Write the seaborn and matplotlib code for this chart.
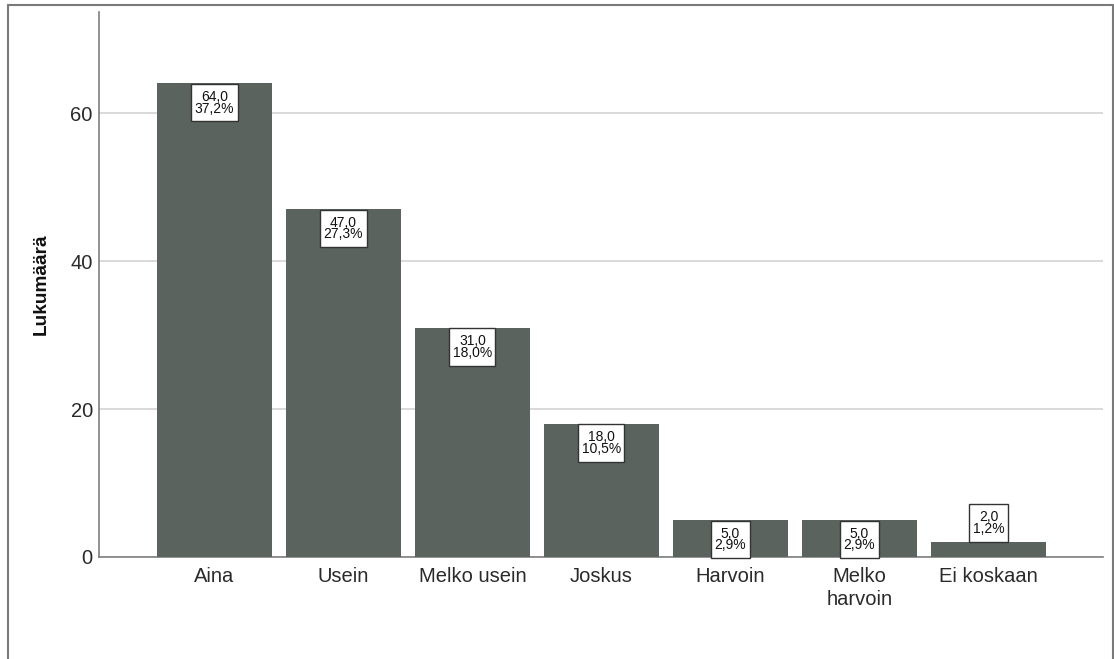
import matplotlib
matplotlib.use("Agg")
import matplotlib.pyplot as plt
import seaborn as sns
import pandas as pd
from matplotlib.lines import Line2D
from matplotlib.path import Path

categories = ["Aina", "Usein", "Melko usein", "Joskus", "Harvoin", "Melko\nharvoin", "Ei koskaan"]
counts = [64, 47, 31, 18, 5, 5, 2]
percents = [37.2, 27.3, 18.0, 10.5, 2.9, 2.9, 1.2]
yticks = [0, 20, 40, 60]
ylabel = "Lukumäärä"

sns.set_style("white")
plt.rcParams["font.family"] = ["Liberation Sans", "DejaVu Sans"]

df = pd.DataFrame({"cat": categories, "n": counts})

fig = plt.figure(figsize=(11.14, 6.59), dpi=100)
ax = fig.add_axes([99 / 1114, 102 / 659, (1103 - 99) / 1114, (557 - 12) / 659])

sns.barplot(data=df, x="cat", y="n", color="#5A635D", saturation=1, width=0.89, ax=ax,
            zorder=3, linewidth=0, edgecolor="none")

ax.set_xlim(-0.895, 6.888)
ax.set_ylim(0, 73.65)
ax.set_yticks(yticks)
ax.yaxis.grid(True, color="#D3D3D3", linewidth=1.2, zorder=0)
ax.set_axisbelow(True)
ax.tick_params(axis="both", length=0, labelsize=14.5, colors="#2A2A2A")
ax.tick_params(axis="y", pad=4.5)
ax.tick_params(axis="x", pad=7)
for lab in ax.get_xticklabels():
    lab.set_linespacing(1.27)
for s in ["top", "right"]:
    ax.spines[s].set_visible(False)
for s in ["left", "bottom"]:
    ax.spines[s].set_color("#7F7F7F")
    ax.spines[s].set_linewidth(1.2)
ax.set_xlabel("")
ax.set_ylabel(ylabel, fontsize=13.7, fontweight="bold", labelpad=15, color="#111111")

PX, PY = 0.24, 0.42


def label_box(x0, y0, width, height, mutation_size):
    px = PX * mutation_size
    py = PY * mutation_size
    x1, y1 = x0 - px, y0 - py
    x2, y2 = x0 + width + px, y0 + height + py
    return Path([(x1, y1), (x2, y1), (x2, y2), (x1, y2), (x1, y1)], closed=True)


fs = 10
for i, (c, p) in enumerate(zip(counts, percents)):
    txt = f"{c:.1f}".replace(".", ",") + "\n" + f"{p:.1f}".replace(".", ",") + "%"
    bbox = dict(boxstyle=label_box, facecolor="white", edgecolor="#333333", linewidth=1.0)
    off = PY * fs + 0.5
    if c >= 5:
        ax.annotate(txt, (i, c), xytext=(0, -off), textcoords="offset points", ha="center", va="top",
                    fontsize=fs, linespacing=0.78, bbox=bbox, zorder=5, color="#111111")
    else:
        ax.annotate(txt, (i, c), xytext=(0, off), textcoords="offset points", ha="center", va="bottom",
                    fontsize=fs, linespacing=0.78, bbox=bbox, zorder=5, color="#111111")

# outer frame
fc = "#7A7A7A"
fig.add_artist(Line2D([8 / 1114, 1113 / 1114], [1 - 5 / 659, 1 - 5 / 659], color=fc, lw=1.5, transform=fig.transFigure))
fig.add_artist(Line2D([8 / 1114, 8 / 1114], [0, 1 - 5 / 659], color=fc, lw=1.5, transform=fig.transFigure))
fig.add_artist(Line2D([1113 / 1114, 1113 / 1114], [0, 1 - 5 / 659], color=fc, lw=1.5, transform=fig.transFigure))

fig.savefig("out.png", dpi=100, facecolor="white")
